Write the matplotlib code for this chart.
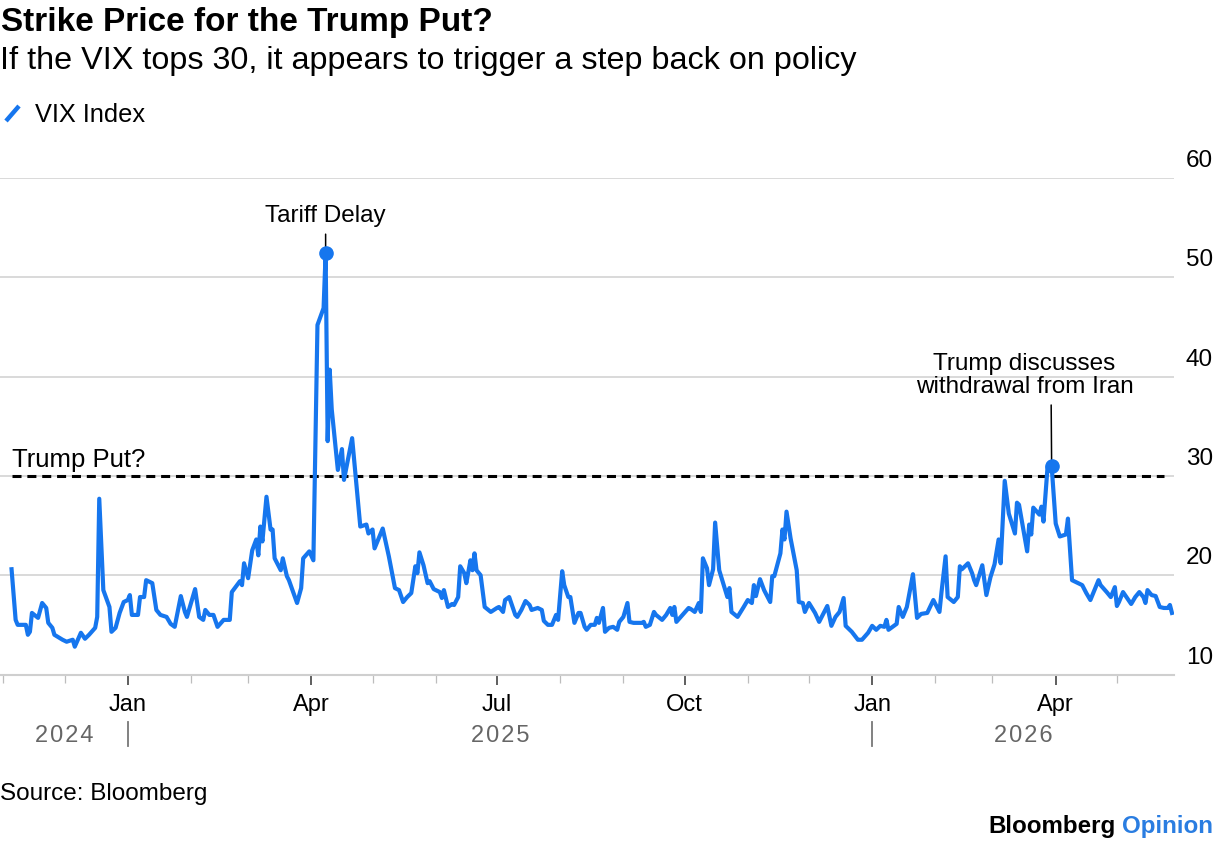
import matplotlib
matplotlib.use('Agg')
import matplotlib.pyplot as plt
import matplotlib.dates as mdates
from matplotlib.transforms import blended_transform_factory, offset_copy
from matplotlib.lines import Line2D
import pandas as pd

plt.rcParams['font.family'] = ['Liberation Sans', 'DejaVu Sans']
plt.rcParams['lines.scale_dashes'] = False

# ---------------- data ----------------
dates = [
    "2024-11-05", "2024-11-07", "2024-11-08", "2024-11-12", "2024-11-13", "2024-11-14", "2024-11-15",
    "2024-11-18", "2024-11-20", "2024-11-22", "2024-11-23", "2024-11-25", "2024-11-26", "2024-11-30",
    "2024-12-02", "2024-12-05", "2024-12-06", "2024-12-09", "2024-12-11", "2024-12-13", "2024-12-16",
    "2024-12-17", "2024-12-18", "2024-12-20", "2024-12-23", "2024-12-24", "2024-12-26", "2024-12-28",
    "2024-12-30", "2025-01-01", "2025-01-02", "2025-01-03", "2025-01-06", "2025-01-07", "2025-01-09",
    "2025-01-10", "2025-01-13", "2025-01-15", "2025-01-17", "2025-01-20", "2025-01-22", "2025-01-24",
    "2025-01-27", "2025-01-29", "2025-01-30", "2025-02-03", "2025-02-05", "2025-02-07", "2025-02-08",
    "2025-02-10", "2025-02-12", "2025-02-14", "2025-02-17", "2025-02-20", "2025-02-21", "2025-02-25",
    "2025-02-26", "2025-02-27", "2025-03-01", "2025-03-03", "2025-03-05", "2025-03-06", "2025-03-07",
    "2025-03-08", "2025-03-10", "2025-03-12", "2025-03-13", "2025-03-14", "2025-03-17", "2025-03-18",
    "2025-03-20", "2025-03-21", "2025-03-25", "2025-03-27", "2025-03-28", "2025-03-31", "2025-04-02",
    "2025-04-04", "2025-04-07", "2025-04-08", "2025-04-09", "2025-04-10", "2025-04-11", "2025-04-14",
    "2025-04-16", "2025-04-17", "2025-04-21", "2025-04-23", "2025-04-25", "2025-04-28", "2025-04-29",
    "2025-05-01", "2025-05-02", "2025-05-06", "2025-05-09", "2025-05-12", "2025-05-14", "2025-05-16",
    "2025-05-18", "2025-05-20", "2025-05-22", "2025-05-23", "2025-05-24", "2025-05-26", "2025-05-28",
    "2025-05-29", "2025-05-31", "2025-06-03", "2025-06-04", "2025-06-05", "2025-06-07", "2025-06-09",
    "2025-06-10", "2025-06-12", "2025-06-13", "2025-06-15", "2025-06-16", "2025-06-18", "2025-06-19",
    "2025-06-20", "2025-06-21", "2025-06-23", "2025-06-25", "2025-06-28", "2025-07-01", "2025-07-02",
    "2025-07-04", "2025-07-05", "2025-07-07", "2025-07-10", "2025-07-11", "2025-07-13", "2025-07-15",
    "2025-07-17", "2025-07-18", "2025-07-21", "2025-07-23", "2025-07-24", "2025-07-26", "2025-07-28",
    "2025-07-30", "2025-07-31", "2025-08-02", "2025-08-03", "2025-08-05", "2025-08-06", "2025-08-07",
    "2025-08-08", "2025-08-10", "2025-08-11", "2025-08-13", "2025-08-14", "2025-08-16", "2025-08-18",
    "2025-08-19", "2025-08-20", "2025-08-22", "2025-08-23", "2025-08-25", "2025-08-27", "2025-08-29",
    "2025-08-30", "2025-09-01", "2025-09-03", "2025-09-04", "2025-09-06", "2025-09-10", "2025-09-11",
    "2025-09-12", "2025-09-14", "2025-09-16", "2025-09-17", "2025-09-20", "2025-09-22", "2025-09-24",
    "2025-09-25", "2025-09-26", "2025-09-27", "2025-09-30", "2025-10-03", "2025-10-04", "2025-10-06",
    "2025-10-08", "2025-10-09", "2025-10-10", "2025-10-12", "2025-10-13", "2025-10-15", "2025-10-16",
    "2025-10-18", "2025-10-21", "2025-10-22", "2025-10-23", "2025-10-24", "2025-10-27", "2025-10-30",
    "2025-11-01", "2025-11-03", "2025-11-04", "2025-11-05", "2025-11-07", "2025-11-09", "2025-11-12",
    "2025-11-13", "2025-11-14", "2025-11-17", "2025-11-18", "2025-11-19", "2025-11-20", "2025-11-22",
    "2025-11-25", "2025-11-26", "2025-11-28", "2025-11-29", "2025-12-01", "2025-12-04", "2025-12-06",
    "2025-12-10", "2025-12-12", "2025-12-14", "2025-12-16", "2025-12-18", "2025-12-19", "2025-12-22",
    "2025-12-25", "2025-12-27", "2025-12-30", "2026-01-01", "2026-01-03", "2026-01-05", "2026-01-07",
    "2026-01-08", "2026-01-09", "2026-01-13", "2026-01-14", "2026-01-16", "2026-01-18", "2026-01-21",
    "2026-01-23", "2026-01-25", "2026-01-28", "2026-01-31", "2026-02-03", "2026-02-04", "2026-02-06",
    "2026-02-07", "2026-02-10", "2026-02-12", "2026-02-13", "2026-02-14", "2026-02-17", "2026-02-19",
    "2026-02-20", "2026-02-21", "2026-02-24", "2026-02-26", "2026-02-28", "2026-03-02", "2026-03-04",
    "2026-03-05", "2026-03-07", "2026-03-09", "2026-03-12", "2026-03-13", "2026-03-14", "2026-03-18",
    "2026-03-19", "2026-03-20", "2026-03-21", "2026-03-24", "2026-03-25", "2026-03-26", "2026-03-28",
    "2026-03-30", "2026-04-01", "2026-04-03", "2026-04-06", "2026-04-07", "2026-04-09", "2026-04-12",
    "2026-04-14", "2026-04-16", "2026-04-18", "2026-04-20", "2026-04-22", "2026-04-23", "2026-04-26",
    "2026-04-28", "2026-04-30", "2026-05-01", "2026-05-02", "2026-05-04", "2026-05-06", "2026-05-08",
    "2026-05-10", "2026-05-12", "2026-05-14", "2026-05-15", "2026-05-16", "2026-05-18", "2026-05-20",
    "2026-05-22", "2026-05-24", "2026-05-26", "2026-05-27", "2026-05-28",
]
vix = [
    20.6, 15.5, 15.0, 15.0, 14.0, 14.3, 16.2,
    15.7, 17.2, 16.7, 15.2, 14.7, 14.0, 13.5,
    13.3, 13.5, 12.8, 14.2, 13.6, 14.0, 14.7,
    15.8, 27.7, 18.5, 16.8, 14.3, 14.7, 16.2,
    17.3, 17.5, 18.0, 16.0, 16.0, 17.8, 17.8,
    19.5, 19.2, 16.5, 16.0, 15.8, 15.1, 14.8,
    17.9, 16.3, 15.8, 18.6, 15.8, 15.5, 16.5,
    16.0, 16.0, 14.8, 15.5, 15.5, 18.3, 19.4,
    19.0, 21.2, 19.7, 22.5, 23.6, 22.0, 24.9,
    23.4, 27.9, 24.6, 24.6, 21.7, 20.5, 21.7,
    19.9, 19.5, 17.2, 18.7, 21.7, 22.4, 21.5,
    45.2, 46.9, 52.4, 33.5, 40.7, 36.7, 30.6,
    32.7, 29.6, 33.8, 29.3, 24.9, 25.1, 24.2,
    24.6, 22.7, 24.7, 21.9, 18.7, 18.5, 17.3,
    17.8, 18.2, 20.9, 20.2, 22.3, 21.0, 19.2,
    19.4, 18.6, 18.3, 17.7, 18.5, 16.8, 17.1,
    17.0, 17.8, 20.9, 20.2, 19.2, 21.5, 20.5,
    22.2, 20.5, 20.0, 16.8, 16.3, 16.7, 16.8,
    16.3, 17.5, 17.8, 16.0, 15.8, 16.5, 17.4,
    17.0, 16.5, 16.7, 16.5, 15.4, 15.0, 15.0,
    16.0, 15.5, 20.4, 19.0, 17.8, 17.8, 16.5,
    15.2, 16.2, 16.2, 14.8, 14.5, 15.0, 15.0,
    15.7, 15.2, 16.7, 14.3, 14.7, 14.8, 14.5,
    15.3, 15.8, 17.2, 15.3, 15.2, 15.2, 15.3,
    14.8, 15.0, 16.3, 16.0, 15.5, 16.0, 16.7,
    16.0, 16.8, 15.3, 16.0, 16.7, 16.6, 16.3,
    17.2, 16.3, 21.7, 20.7, 19.0, 20.6, 25.3,
    20.5, 18.5, 17.8, 18.7, 16.3, 15.8, 16.8,
    17.5, 17.2, 19.0, 17.9, 19.6, 18.5, 17.3,
    19.9, 19.9, 22.2, 24.6, 23.6, 26.4, 23.7,
    20.5, 17.3, 17.2, 16.3, 17.2, 16.2, 15.3,
    16.9, 14.9, 15.8, 16.3, 17.7, 14.9, 14.3,
    13.5, 13.5, 14.2, 14.9, 14.5, 14.9, 14.8,
    15.5, 14.5, 15.1, 16.8, 15.8, 16.8, 20.1,
    15.7, 16.1, 16.2, 17.5, 16.3, 18.3, 21.9,
    17.8, 17.3, 17.8, 20.9, 20.6, 21.2, 20.2,
    19.5, 19.0, 21.0, 18.0, 19.8, 21.1, 23.6,
    21.2, 29.5, 26.2, 24.2, 27.3, 27.1, 22.4,
    25.1, 24.1, 26.8, 26.1, 26.9, 25.4, 30.9,
    31.0, 25.2, 23.9, 24.1, 25.7, 19.5, 19.2,
    19.0, 18.2, 17.5, 18.5, 19.5, 19.0, 18.3,
    17.8, 18.8, 16.9, 17.3, 18.3, 17.7, 17.1,
    17.8, 18.3, 17.8, 17.2, 18.5, 18.0, 17.9,
    16.8, 16.7, 16.7, 17.0, 16.2,
]
series_name = "VIX Index"
put_level = 30
put_end = "2026-05-24"
y_ticks = [10, 20, 30, 40, 50, 60]
month_labels = {1: "Jan", 4: "Apr", 7: "Jul", 10: "Oct"}
years = ["2024", "2025", "2026"]
ann_tariff = ("2025-04-08", "Tariff Delay")
ann_iran = ("2026-03-30", "Trump discusses\nwithdrawal from Iran")
x_start, x_end = "2024-10-30 08:00", "2026-05-29"

title = "Strike Price for the Trump Put?"
subtitle = "If the VIX tops 30, it appears to trigger a step back on policy"
source = "Source: Bloomberg"

# ---------------- styling ----------------
BLUE = "#1676ee"
W, H = 1215, 841
fig = plt.figure(figsize=(W / 100, H / 100), dpi=100)
fig.patch.set_facecolor("white")

def fx(px):
    return px / W

def fy(py):
    return 1 - py / H

ax = fig.add_axes([0, fy(674.5), fx(1174), fy(178) - fy(674.5)])
ax.set_facecolor("white")

s = pd.Series(vix, index=pd.to_datetime(dates))
ax.set_xlim(pd.Timestamp(x_start), pd.Timestamp(x_end))
ax.set_ylim(y_ticks[0], y_ticks[-1])

# grid
for v in y_ticks[1:]:
    ax.axhline(v, color="#cfcfcf", lw=1.1, zorder=1)

# dashed put level
ax.hlines(put_level, s.index[0], pd.Timestamp(put_end), colors="black", lw=2.2,
          linestyles=(0, (6.5, 4.2)), zorder=3)
ax.text(s.index[0], put_level, "Trump Put?", fontsize=18.5, ha="left", va="baseline",
        transform=offset_copy(ax.transData, fig=fig, x=0, y=9, units="dots"), zorder=5)

# main line
ax.plot(s.index, s.values, color=BLUE, lw=3.0, solid_joinstyle="round", zorder=4)

# annotations: (date, text), x offset (pt), y offset (pt), shrinkA, relpos x
for (d, txt), dx, dy, shA, rx in [(ann_tariff, 0, 23.0, 3.5, 0.5), (ann_iran, -19.5, 52.5, 3.0, 0.622)]:
    t = pd.Timestamp(d)
    v = s.loc[t]
    ax.plot([t], [v], "o", color=BLUE, ms=9.5, zorder=6)
    ax.annotate(txt, xy=(t, v), xytext=(dx, dy), textcoords="offset points",
                ha="center", va="baseline", fontsize=17.5, linespacing=1.08,
                arrowprops=dict(arrowstyle="-", color="black", lw=1.1,
                                shrinkA=shA, shrinkB=0, relpos=(rx, 0)),
                zorder=5, annotation_clip=False)

# spines
for sp in ["top", "right", "left"]:
    ax.spines[sp].set_visible(False)
ax.spines["bottom"].set_color("#cfcfcf")
ax.spines["bottom"].set_linewidth(1.5)
ax.set_yticks([])

# x ticks
months = pd.date_range("2024-11-01", x_end, freq="MS")
major = [m for m in months if m.month in month_labels]
minor = [m for m in months if m.month not in month_labels]
ax.set_xticks(major)
ax.set_xticklabels([month_labels[m.month] for m in major])
ax.set_xticks(minor, minor=True)
ax.tick_params(axis="x", which="major", length=7.5, width=1.1, color="#333333",
               labelsize=17, pad=6.3, labelcolor="black")
ax.tick_params(axis="x", which="minor", length=5.5, width=0.9, color="#bdbdbd")

# y labels (right, above the gridlines)
ytr = offset_copy(blended_transform_factory(fig.transFigure, ax.transData), fig=fig, x=0, y=11, units="dots")
for v in y_ticks:
    ax.text(fx(1213), v, str(v), transform=ytr, ha="right", va="baseline", fontsize=17.5)

# year row
yr_tr = blended_transform_factory(ax.transData, fig.transFigure)
jan_marks = [pd.Timestamp(f"{y}-01-01") for y in years[1:]]
bounds = [pd.Timestamp(x_start)] + jan_marks + [pd.Timestamp(x_end)]
for i, y in enumerate(years):
    mid = bounds[i] + (bounds[i + 1] - bounds[i]) / 2
    ax.text(mid, fy(742), "\u200a".join(y), transform=yr_tr, ha="center", va="baseline",
            fontsize=17, color="#666666")
for j in jan_marks:
    ax.add_line(Line2D([j, j], [fy(722), fy(746)], transform=yr_tr, color="#777777",
                       lw=1.3, clip_on=False))

# titles & legend
fig.text(fx(1), fy(31.5), title, fontsize=24, weight="bold", ha="left", va="baseline")
fig.text(fx(0), fy(69), subtitle, fontsize=23.3, ha="left", va="baseline")
fig.add_artist(Line2D([fx(6), fx(19)], [fy(121), fy(106)], color=BLUE, lw=3.2,
                      solid_capstyle="butt", transform=fig.transFigure))
fig.text(fx(35), fy(122), series_name, fontsize=18.3, ha="left", va="baseline")

fig.text(fx(0), fy(800), source, fontsize=17.5, ha="left", va="baseline")
t1 = fig.text(fx(1213), fy(833), "Opinion", fontsize=17.4, weight="bold", color="#2a7de1",
              ha="right", va="baseline")
fig.canvas.draw()
bb = t1.get_window_extent()
fig.text((bb.x0 - 6) / W, fy(833), "Bloomberg", fontsize=17.4, weight="bold", color="black",
         ha="right", va="baseline")

fig.savefig("out.png", dpi=100, facecolor="white")
